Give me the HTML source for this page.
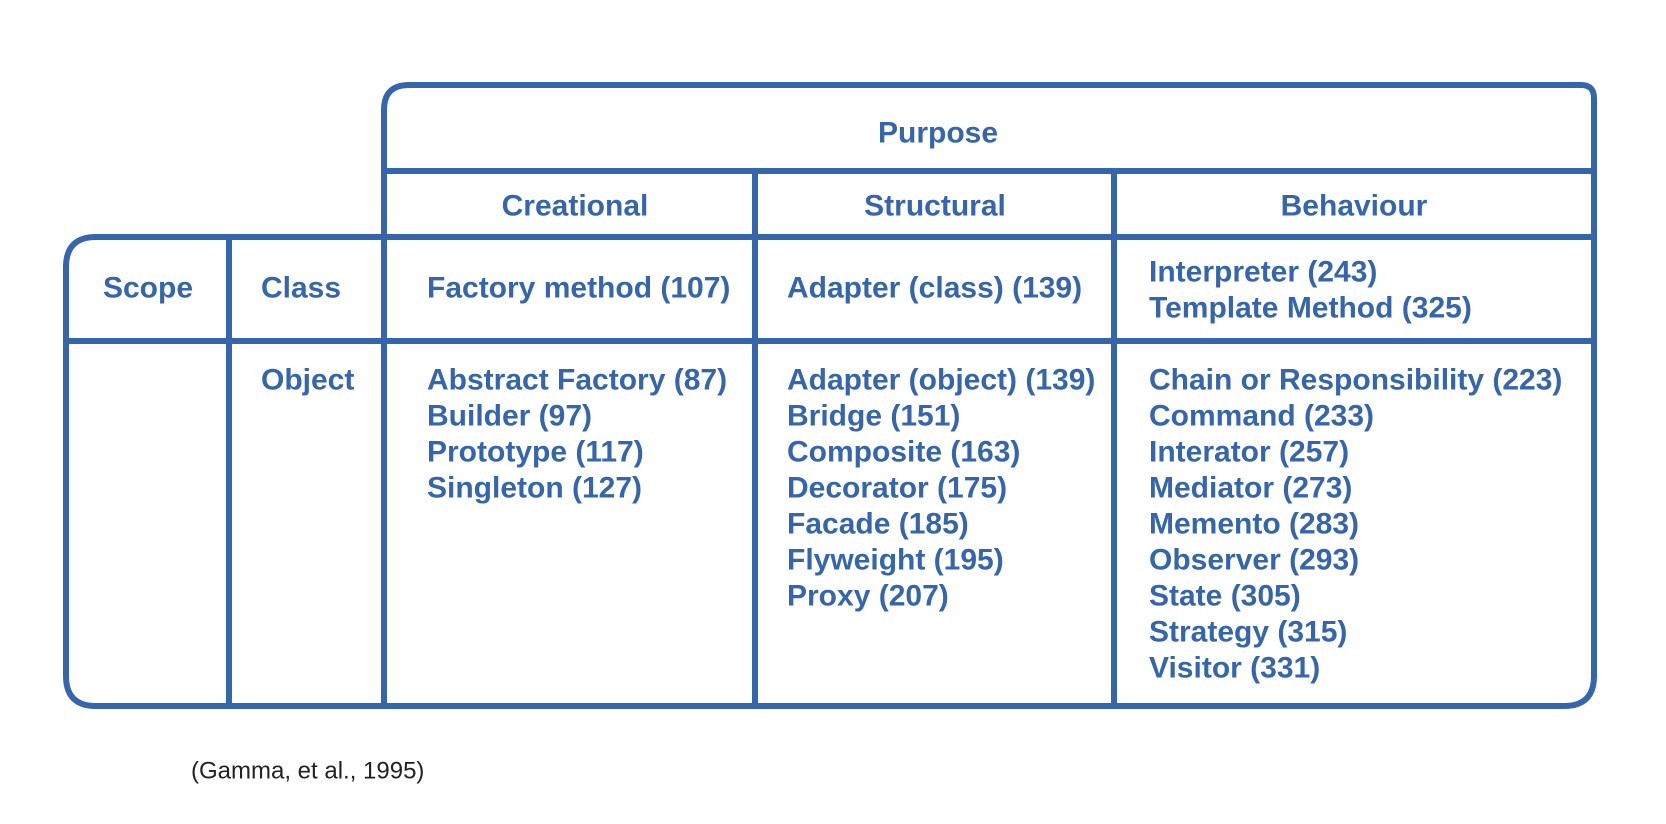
<!DOCTYPE html>
<html><head><meta charset="utf-8"><style>
html,body{margin:0;padding:0;background:#fff;}
svg{display:block}
text{font-family:"Liberation Sans",Arial,sans-serif;font-weight:bold;font-size:30px;fill:#3465ad;dominant-baseline:central}
</style></head><body>
<svg width="1666" height="824" viewBox="0 0 1666 824">
<g fill="none" stroke="#3465ad" stroke-width="6">
<path d="M384,237 V110 Q384,85 409,85 H1581 Q1594,85 1594,98 V676 Q1594,706 1564,706 H96 Q66,706 66,676 V267 Q66,237 96,237 H1594"/>
<line x1="384" y1="171" x2="1594" y2="171"/>
<line x1="66" y1="341" x2="1594" y2="341"/>
<line x1="384" y1="237" x2="384" y2="706"/>
<line x1="229" y1="237" x2="229" y2="706"/>
<line x1="755" y1="171" x2="755" y2="706"/>
<line x1="1114" y1="171" x2="1114" y2="706"/>
</g>
<text x="938" y="133" text-anchor="middle">Purpose</text>
<text x="575" y="206" text-anchor="middle">Creational</text>
<text x="935" y="206" text-anchor="middle">Structural</text>
<text x="1354" y="206" text-anchor="middle">Behaviour</text>
<text x="148" y="288" text-anchor="middle">Scope</text>
<text x="261" y="288">Class</text>
<text x="427" y="288">Factory method (107)</text>
<text x="787" y="288">Adapter (class) (139)</text>
<text x="1149" y="272">Interpreter (243)</text>
<text x="1149" y="308">Template Method (325)</text>
<text x="261" y="380">Object</text>
<text x="427" y="380">Abstract Factory (87)</text>
<text x="427" y="416">Builder (97)</text>
<text x="427" y="452">Prototype (117)</text>
<text x="427" y="488">Singleton (127)</text>
<text x="787" y="380">Adapter (object) (139)</text>
<text x="787" y="416">Bridge (151)</text>
<text x="787" y="452">Composite (163)</text>
<text x="787" y="488">Decorator (175)</text>
<text x="787" y="524">Facade (185)</text>
<text x="787" y="560">Flyweight (195)</text>
<text x="787" y="596">Proxy (207)</text>
<text x="1149" y="380">Chain or Responsibility (223)</text>
<text x="1149" y="416">Command (233)</text>
<text x="1149" y="452">Interator (257)</text>
<text x="1149" y="488">Mediator (273)</text>
<text x="1149" y="524">Memento (283)</text>
<text x="1149" y="560">Observer (293)</text>
<text x="1149" y="596">State (305)</text>
<text x="1149" y="632">Strategy (315)</text>
<text x="1149" y="668">Visitor (331)</text>
<text x="191" y="771" style="font-weight:normal;font-size:24px;fill:#222">(Gamma, et al., 1995)</text>
</svg>
</body></html>
